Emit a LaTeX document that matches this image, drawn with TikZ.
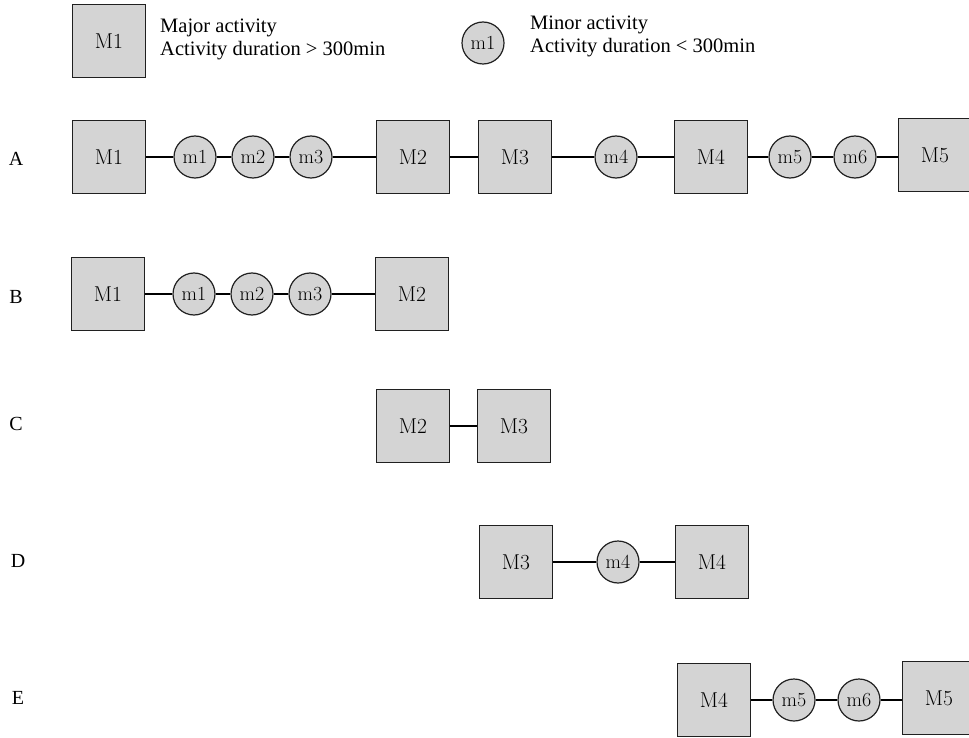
\documentclass[tikz,border=0pt]{standalone}
\usepackage{fontspec}
\setmainfont{Liberation Serif}
\newfontfamily\boxfont{Latin Modern Roman}
\usetikzlibrary{positioning}
\definecolor{actfill}{HTML}{D4D4D4}
\definecolor{actline}{HTML}{202020}
\tikzset{
  major/.style={draw=actline, fill=actfill, line width=1.2pt, minimum width=73pt, minimum height=73pt, inner sep=0pt, font=\boxfont\fontsize{21.5}{21.5}\selectfont},
  minor/.style={draw=actline, fill=actfill, line width=1.2pt, circle, minimum size=42pt, inner sep=0pt, font=\boxfont\fontsize{20}{20}\selectfont},
  link/.style={draw=black, line width=1.2pt},
  rowlab/.style={font=\fontsize{20}{20}\selectfont, inner sep=0pt},
  legtext/.style={font=\fontsize{20.5}{23}\selectfont, align=left, anchor=west, inner sep=0pt}
}
\begin{document}
\begin{tikzpicture}[x=1pt,y=-1pt]
\useasboundingbox (0,0) rectangle (969,738);
% legend
\node[major] (LM) at (109,41) {M1};
\node[legtext] (LMt) at (160,39) {Major activity\\Activity duration > 300min};
\node[minor] (Lm) at (483,43) {m1};
\node[legtext] (Lmt) at (530,36) {Minor activity\\Activity duration < 300min};
% row labels
\node[rowlab] (lA) at (16,159) {A};
\node[rowlab] (lB) at (16,297) {B};
\node[rowlab] (lC) at (16,424) {C};
\node[rowlab] (lD) at (18,561) {D};
\node[rowlab] (lE) at (18,698) {E};
% row A
\node[major] (aM1) at (109,157) {M1};
\node[minor] (am1) at (195,157) {m1};
\node[minor] (am2) at (253,157) {m2};
\node[minor] (am3) at (311,157) {m3};
\node[major] (aM2) at (413,157) {M2};
\node[major] (aM3) at (515,157) {M3};
\node[minor] (am4) at (616,157) {m4};
\node[major] (aM4) at (711,157) {M4};
\node[minor] (am5) at (790,157) {m5};
\node[minor] (am6) at (855,157) {m6};
\node[major] (aM5) at (935,155) {M5};
\draw[link] (aM1) -- (am1);
\draw[link] (am1) -- (am2);
\draw[link] (am2) -- (am3);
\draw[link] (am3) -- (aM2);
\draw[link] (aM2) -- (aM3);
\draw[link] (aM3) -- (am4);
\draw[link] (am4) -- (aM4);
\draw[link] (aM4) -- (am5);
\draw[link] (am5) -- (am6);
\draw[link] (am6) -- (aM5.west |- am6);
% row B
\node[major] (bM1) at (108,294) {M1};
\node[minor] (bm1) at (194,294) {m1};
\node[minor] (bm2) at (252,294) {m2};
\node[minor] (bm3) at (310,294) {m3};
\node[major] (bM2) at (412,294) {M2};
\draw[link] (bM1) -- (bm1);
\draw[link] (bm1) -- (bm2);
\draw[link] (bm2) -- (bm3);
\draw[link] (bm3) -- (bM2);
% row C
\node[major] (cM2) at (413,426) {M2};
\node[major] (cM3) at (514,426) {M3};
\draw[link] (cM2) -- (cM3);
% row D
\node[major] (dM3) at (516,562) {M3};
\node[minor] (dm4) at (618,562) {m4};
\node[major] (dM4) at (712,562) {M4};
\draw[link] (dM3) -- (dm4);
\draw[link] (dm4) -- (dM4);
% row E
\node[major] (eM4) at (714,700) {M4};
\node[minor] (em5) at (794,700) {m5};
\node[minor] (em6) at (859,700) {m6};
\node[major] (eM5) at (939,698) {M5};
\draw[link] (eM4) -- (em5);
\draw[link] (em5) -- (em6);
\draw[link] (em6) -- (eM5.west |- em6);
\end{tikzpicture}
\end{document}
